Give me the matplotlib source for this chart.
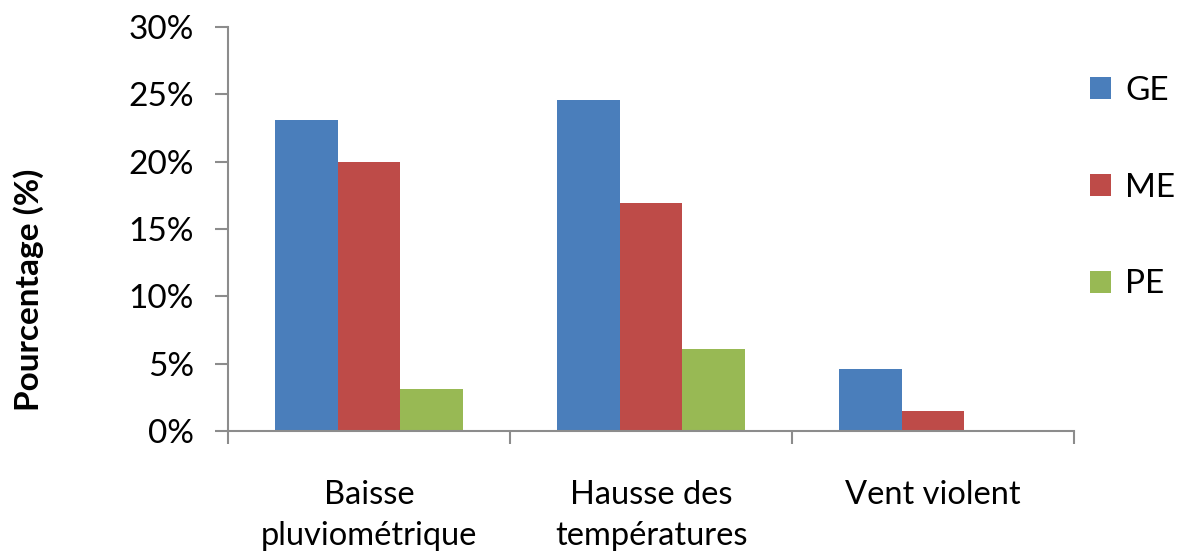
import matplotlib.pyplot as plt
import numpy as np
from matplotlib.ticker import FuncFormatter, FixedLocator

plt.rcParams['font.family'] = ['Lato', 'DejaVu Sans']

categories = ['Baisse\npluviométrique', 'Hausse des\ntempératures', 'Vent violent']
series = ['GE', 'ME', 'PE']
GE = [23.1, 24.6, 4.6]
ME = [20.0, 16.9, 1.5]
PE = [3.1, 6.1, 0.0]
colors = ['#4A7EBB', '#BE4B48', '#98B954']
yticks = [0, 5, 10, 15, 20, 25, 30]

fig = plt.figure(figsize=(11.8, 5.51), dpi=100)
ax = fig.add_axes([0.1932, 0.2178, 0.7170, 0.7332])

x = np.arange(len(categories))
w = 2 / 9
for i, (vals, c, lab) in enumerate(zip([GE, ME, PE], colors, series)):
    ax.bar(x + (i - 1) * w, vals, w, color=c, label=lab)

ax.set_xlim(-0.5, len(categories) - 0.5)
ax.set_ylim(0, 30)
ax.set_yticks(yticks)
ax.yaxis.set_major_formatter(FuncFormatter(lambda v, p: f'{v:.0f}%'))
ax.set_xticks(x)
ax.set_xticklabels(categories, fontsize=23.5, linespacing=1.48)
ax.xaxis.set_minor_locator(FixedLocator(np.arange(-0.5, len(categories), 1)))
ax.tick_params(axis='x', which='major', length=0, pad=35)
ax.tick_params(axis='x', which='minor', length=9.5, width=1.5, color='#8c8c8c')
ax.tick_params(axis='y', length=9.5, width=1.5, color='#8c8c8c', labelsize=24, pad=15)

for s in ['top', 'right']:
    ax.spines[s].set_visible(False)
for s in ['left', 'bottom']:
    ax.spines[s].set_color('#8c8c8c')
    ax.spines[s].set_linewidth(1.5)

fig.text(29 / 1180, 1 - 290 / 551, 'Pourcentage (%)', rotation=90,
         ha='center', va='center', fontsize=24, fontweight='bold')

fig.legend(loc='upper left', bbox_to_anchor=(0.9237, 0.862), frameon=False,
           fontsize=24, handlelength=0.63, handleheight=0.63, borderpad=0,
           borderaxespad=0, labelspacing=2.0, handletextpad=0.42)

fig.savefig('out.png', dpi=100)
